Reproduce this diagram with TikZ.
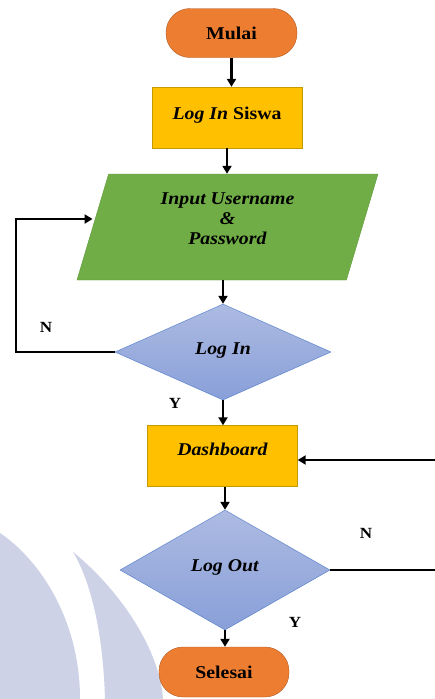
\documentclass[tikz,border=0pt]{standalone}
\usepackage{fontspec}
\setmainfont{Liberation Serif}[FakeStretch=1.1]
\usetikzlibrary{shapes.geometric,arrows.meta}
\definecolor{termfill}{HTML}{ED7D31}
\definecolor{termline}{HTML}{AE5A21}
\definecolor{procfill}{HTML}{FFC000}
\definecolor{procline}{HTML}{C59A00}
\definecolor{iofill}{HTML}{70AD47}
\definecolor{ioline}{HTML}{5E9838}
\definecolor{dectop}{HTML}{ADBBE2}
\definecolor{decbot}{HTML}{889FD8}
\definecolor{decline}{HTML}{4A78C8}
\definecolor{wmark}{HTML}{CDD2E6}
\begin{document}
\begin{tikzpicture}[x=1pt,y=-1pt,
 txt/.style={font=\fontsize{18}{20}\selectfont\bfseries},
 term/.style={txt,draw=termline,fill=termfill,rounded corners=24pt,minimum width=131pt,minimum height=49pt},
 proc/.style={txt,draw=procline,fill=procfill,minimum width=150pt,minimum height=61pt},
 io/.style={txt,trapezium,trapezium left angle=65,trapezium right angle=115,trapezium stretches body,
  draw=ioline,fill=iofill,minimum width=301pt,minimum height=106pt,align=center,inner sep=0pt},
 dec/.style={txt,diamond,draw=decline,top color=dectop,bottom color=decbot,inner sep=0pt},
 lab/.style={font=\fontsize{15.5}{18}\selectfont\bfseries},
 flow/.style={->,line width=2.2pt},
 back/.style={line width=2.2pt},
 >={Triangle[length=8pt,width=9pt]}]
\useasboundingbox (0,0) rectangle (435,699);
% watermark
\fill[wmark] (0,533) .. controls (40,560) and (80,620) .. (80,699) -- (0,699) -- cycle;
\fill[wmark] (73,552) .. controls (120,590) and (160,650) .. (163,699) -- (105,699)
 .. controls (103,630) and (90,580) .. (73,552) -- cycle;
% nodes
\node[term] (mulai) at (231.5,33) {Mulai};
\node[proc,text depth=8pt] (siswa) at (227,117.5) {\textit{Log In} Siswa};
\node[io,text depth=16pt] (io) at (227.5,227) {\textit{Input Username}\\\textit{\&}\\\textit{Password}};
\node[dec,minimum width=216pt,minimum height=96pt,text depth=6pt] (login) at (223,352) {\textit{Log In}};
\node[proc,text depth=14pt] (dash) at (222.5,456) {\textit{Dashboard}};
\node[dec,minimum width=210pt,minimum height=120pt,text depth=8pt] (logout) at (225,570) {\textit{Log Out}};
\node[term,minimum width=130pt,minimum height=50pt] (selesai) at (224,672) {Selesai};
\coordinate (loopL) at (16,0);
\coordinate (backD) at (435,460);
\coordinate (backN) at (435,571);
% connectors
\draw[flow] (mulai) -- (mulai |- siswa.north);
\draw[flow] (siswa) -- (siswa |- io.north);
\draw[flow] (io.south -| login) -- (login.north);
\draw[flow] (login) -- (login |- dash.north);
\draw[flow] (dash.south -| logout) -- (logout.north);
\draw[flow] (logout) -- (logout |- selesai.north);
\draw[flow] (login.west) -- (login.west -| loopL) |- ([yshift=8pt]io.west);
\draw[back] (logout.east) -- (logout.east -| backN);
\draw[flow] (backD) -- (backD -| dash.east);
% labels
\node[lab] (nIn) at (46,327) {N};
\node[lab] (yIn) at (175,403) {Y};
\node[lab] (nOut) at (366,533) {N};
\node[lab] (yOut) at (295,622) {Y};
\end{tikzpicture}
\end{document}
